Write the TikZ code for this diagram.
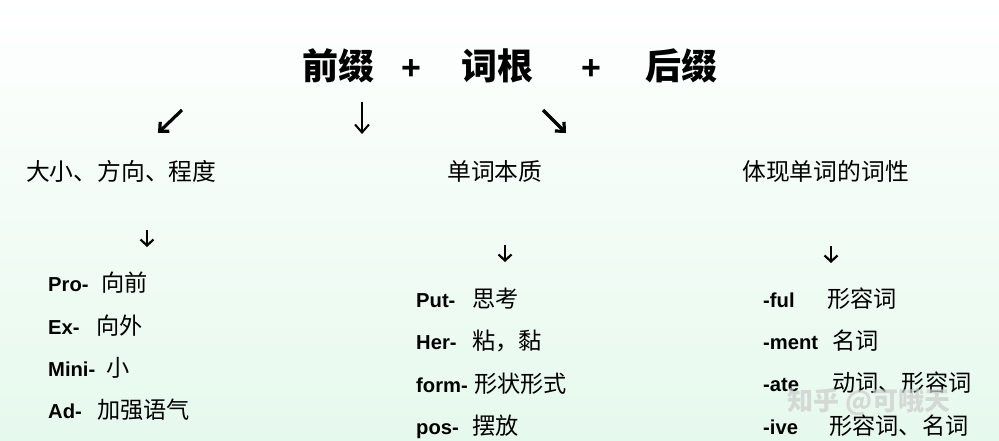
\documentclass[tikz,border=0pt]{standalone}
\usepackage{fontspec}
\setmainfont{Liberation Sans}
\newfontfamily\cjk{Noto Sans CJK SC}
\usetikzlibrary{arrows.meta}
\definecolor{mintbot}{RGB}{230,249,237}
\tikzset{
  titletext/.style={font=\cjk\bfseries\fontsize{36}{40}\selectfont, anchor=base west, inner sep=0pt},
  plustext/.style={font=\bfseries\fontsize{34}{40}\selectfont, anchor=center, inner sep=0pt},
  headtext/.style={font=\cjk\fontsize{23.8}{28}\selectfont, anchor=base west, inner sep=0pt},
  lattext/.style={font=\bfseries\fontsize{20.2}{24}\selectfont, anchor=base west, inner sep=0pt},
  zhtext/.style={font=\cjk\fontsize{23.2}{26}\selectfont, anchor=base west, inner sep=0pt},
  bigarrow/.style={line width=3.2pt, -{Straight Barb[length=7pt,width=13pt,line width=3.2pt]}},
  thinarrow/.style={line width=2pt, -{Straight Barb[length=8pt,width=14pt,line width=2pt]}},
  smallarrow/.style={line width=2.2pt, -{Straight Barb[length=6pt,width=13pt,line width=2.2pt]}},
  marktext/.style={font=\cjk\bfseries\fontsize{26}{30}\selectfont, anchor=base west, inner sep=0pt, text=gray!40, opacity=0.7}
}
\begin{document}
\begin{tikzpicture}[x=1pt,y=-1pt]
\shade[top color=white, bottom color=mintbot] (0,0) rectangle (999,441);
\useasboundingbox (0,0) rectangle (999,441);

% title
\node[titletext] (pre) at (302,80) {前缀};
\node[plustext] (plus1) at (411,70) {+};
\node[titletext] (root) at (461,80) {词根};
\node[plustext] (plus2) at (591,70) {+};
\node[titletext] (suf) at (645,80) {后缀};

% top arrows
\coordinate (a1s) at (182,110); \coordinate (a1e) at (158,133);
\coordinate (a2s) at (362,102); \coordinate (a2e) at (362,134);
\coordinate (a3s) at (543,110); \coordinate (a3e) at (566,133);
\draw[bigarrow] (a1s) -- (a1e);
\draw[thinarrow] (a2s) -- (a2e);
\draw[bigarrow] (a3s) -- (a3e);

% headings
\node[headtext] (h1) at (26,181) {大小、方向、程度};
\node[headtext] (h2) at (447,181) {单词本质};
\node[headtext] (h3) at (742,181) {体现单词的词性};

% small arrows
\coordinate (b1s) at (147,230); \coordinate (b1e) at (147,247);
\coordinate (b2s) at (505,245); \coordinate (b2e) at (505,262);
\coordinate (b3s) at (831,246); \coordinate (b3e) at (831,263);
\draw[smallarrow] (b1s) -- (b1e);
\draw[smallarrow] (b2s) -- (b2e);
\draw[smallarrow] (b3s) -- (b3e);

% left list
\node[lattext] (l1) at (48,291) {Pro-};   \node[zhtext] (l1z) at (101,291) {向前};
\node[lattext] (l2) at (48,334) {Ex-};    \node[zhtext] (l2z) at (96,334) {向外};
\node[lattext] (l3) at (48,376) {Mini-};  \node[zhtext] (l3z) at (106,376) {小};
\node[lattext] (l4) at (48,418) {Ad-};    \node[zhtext] (l4z) at (97,418) {加强语气};

% middle list
\node[lattext] (m1) at (416,307) {Put-};  \node[zhtext] (m1z) at (472,307) {思考};
\node[lattext] (m2) at (416,349) {Her-};  \node[zhtext] (m2z) at (472,349) {粘，黏};
\node[lattext] (m3) at (416,392) {form-}; \node[zhtext] (m3z) at (474,392) {形状形式};
\node[lattext] (m4) at (416,434) {pos-};  \node[zhtext] (m4z) at (472,434) {摆放};

% right list
\node[lattext] (r1) at (763,307) {-ful};  \node[zhtext] (r1z) at (827,307) {形容词};
\node[lattext] (r2) at (763,349) {-ment}; \node[zhtext] (r2z) at (832,349) {名词};
\node[lattext] (r3) at (763,391) {-ate};  \node[zhtext] (r3z) at (832,391) {动词、形容词};
\node[lattext] (r4) at (763,434) {-ive};  \node[zhtext] (r4z) at (829,434) {形容词、名词};

% watermark
\node[marktext] (wm) at (787,410) {知乎 @可哦天};
\end{tikzpicture}
\end{document}
